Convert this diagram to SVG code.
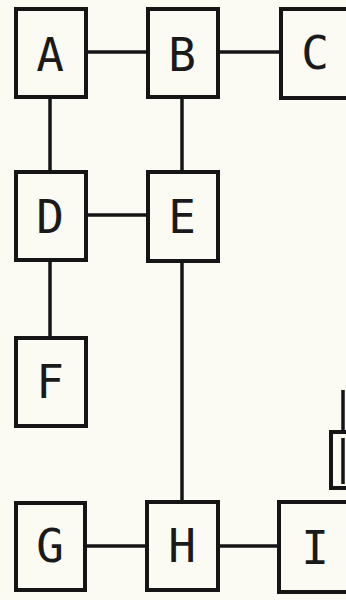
<svg xmlns="http://www.w3.org/2000/svg" width="346" height="600" viewBox="0 0 346 600">
<style>
.box{fill:none;stroke:#151515;stroke-width:4}
.lbl{font-family:"DejaVu Sans Mono","Liberation Mono",monospace;font-size:46px;fill:#1a1a1a;text-anchor:middle;dominant-baseline:central}
.edge{stroke:#151515;stroke-width:3.5;fill:none}
</style>
<rect width="346" height="600" fill="#fcfbf3"/>
<g id="connectors">
<line class="edge" x1="87" y1="52" x2="147" y2="52"/>
<line class="edge" x1="219" y1="52" x2="281" y2="52"/>
<line class="edge" x1="50" y1="97" x2="50" y2="172"/>
<line class="edge" x1="182" y1="97" x2="182" y2="172"/>
<line class="edge" x1="87" y1="215" x2="147" y2="215"/>
<line class="edge" x1="50" y1="260" x2="50" y2="338"/>
<line class="edge" x1="182" y1="261" x2="182" y2="502"/>
<line class="edge" x1="85" y1="546" x2="146" y2="546"/>
<line class="edge" x1="219" y1="546" x2="278" y2="546"/>
<line class="edge" x1="343" y1="390" x2="343" y2="432"/>
</g>
<g id="A"><rect class="box" x="16" y="9" width="70" height="88"/><text class="lbl" x="50" y="55">A</text></g>
<g id="B"><rect class="box" x="148" y="9" width="70" height="88"/><text class="lbl" x="182" y="55">B</text></g>
<g id="C"><rect class="box" x="281" y="9" width="100" height="89"/><text class="lbl" x="315" y="53">C</text></g>
<g id="D"><rect class="box" x="16" y="172" width="70" height="88"/><text class="lbl" x="50" y="217">D</text></g>
<g id="E"><rect class="box" x="148" y="172" width="70" height="89"/><text class="lbl" x="182" y="217">E</text></g>
<g id="F"><rect class="box" x="16" y="338" width="70" height="88"/><text class="lbl" x="50" y="382">F</text></g>
<g id="G"><rect class="box" x="16" y="503" width="69" height="87"/><text class="lbl" x="50" y="546">G</text></g>
<g id="H"><rect class="box" x="147" y="502" width="71" height="88"/><text class="lbl" x="182" y="546">H</text></g>
<g id="I"><rect class="box" x="279" y="502" width="100" height="90"/><text class="lbl" x="315" y="548">I</text></g>
<g id="J"><rect class="box" x="331" y="432" width="40" height="56"/><line class="edge" x1="343" y1="438" x2="343" y2="484"/></g>
</svg>
